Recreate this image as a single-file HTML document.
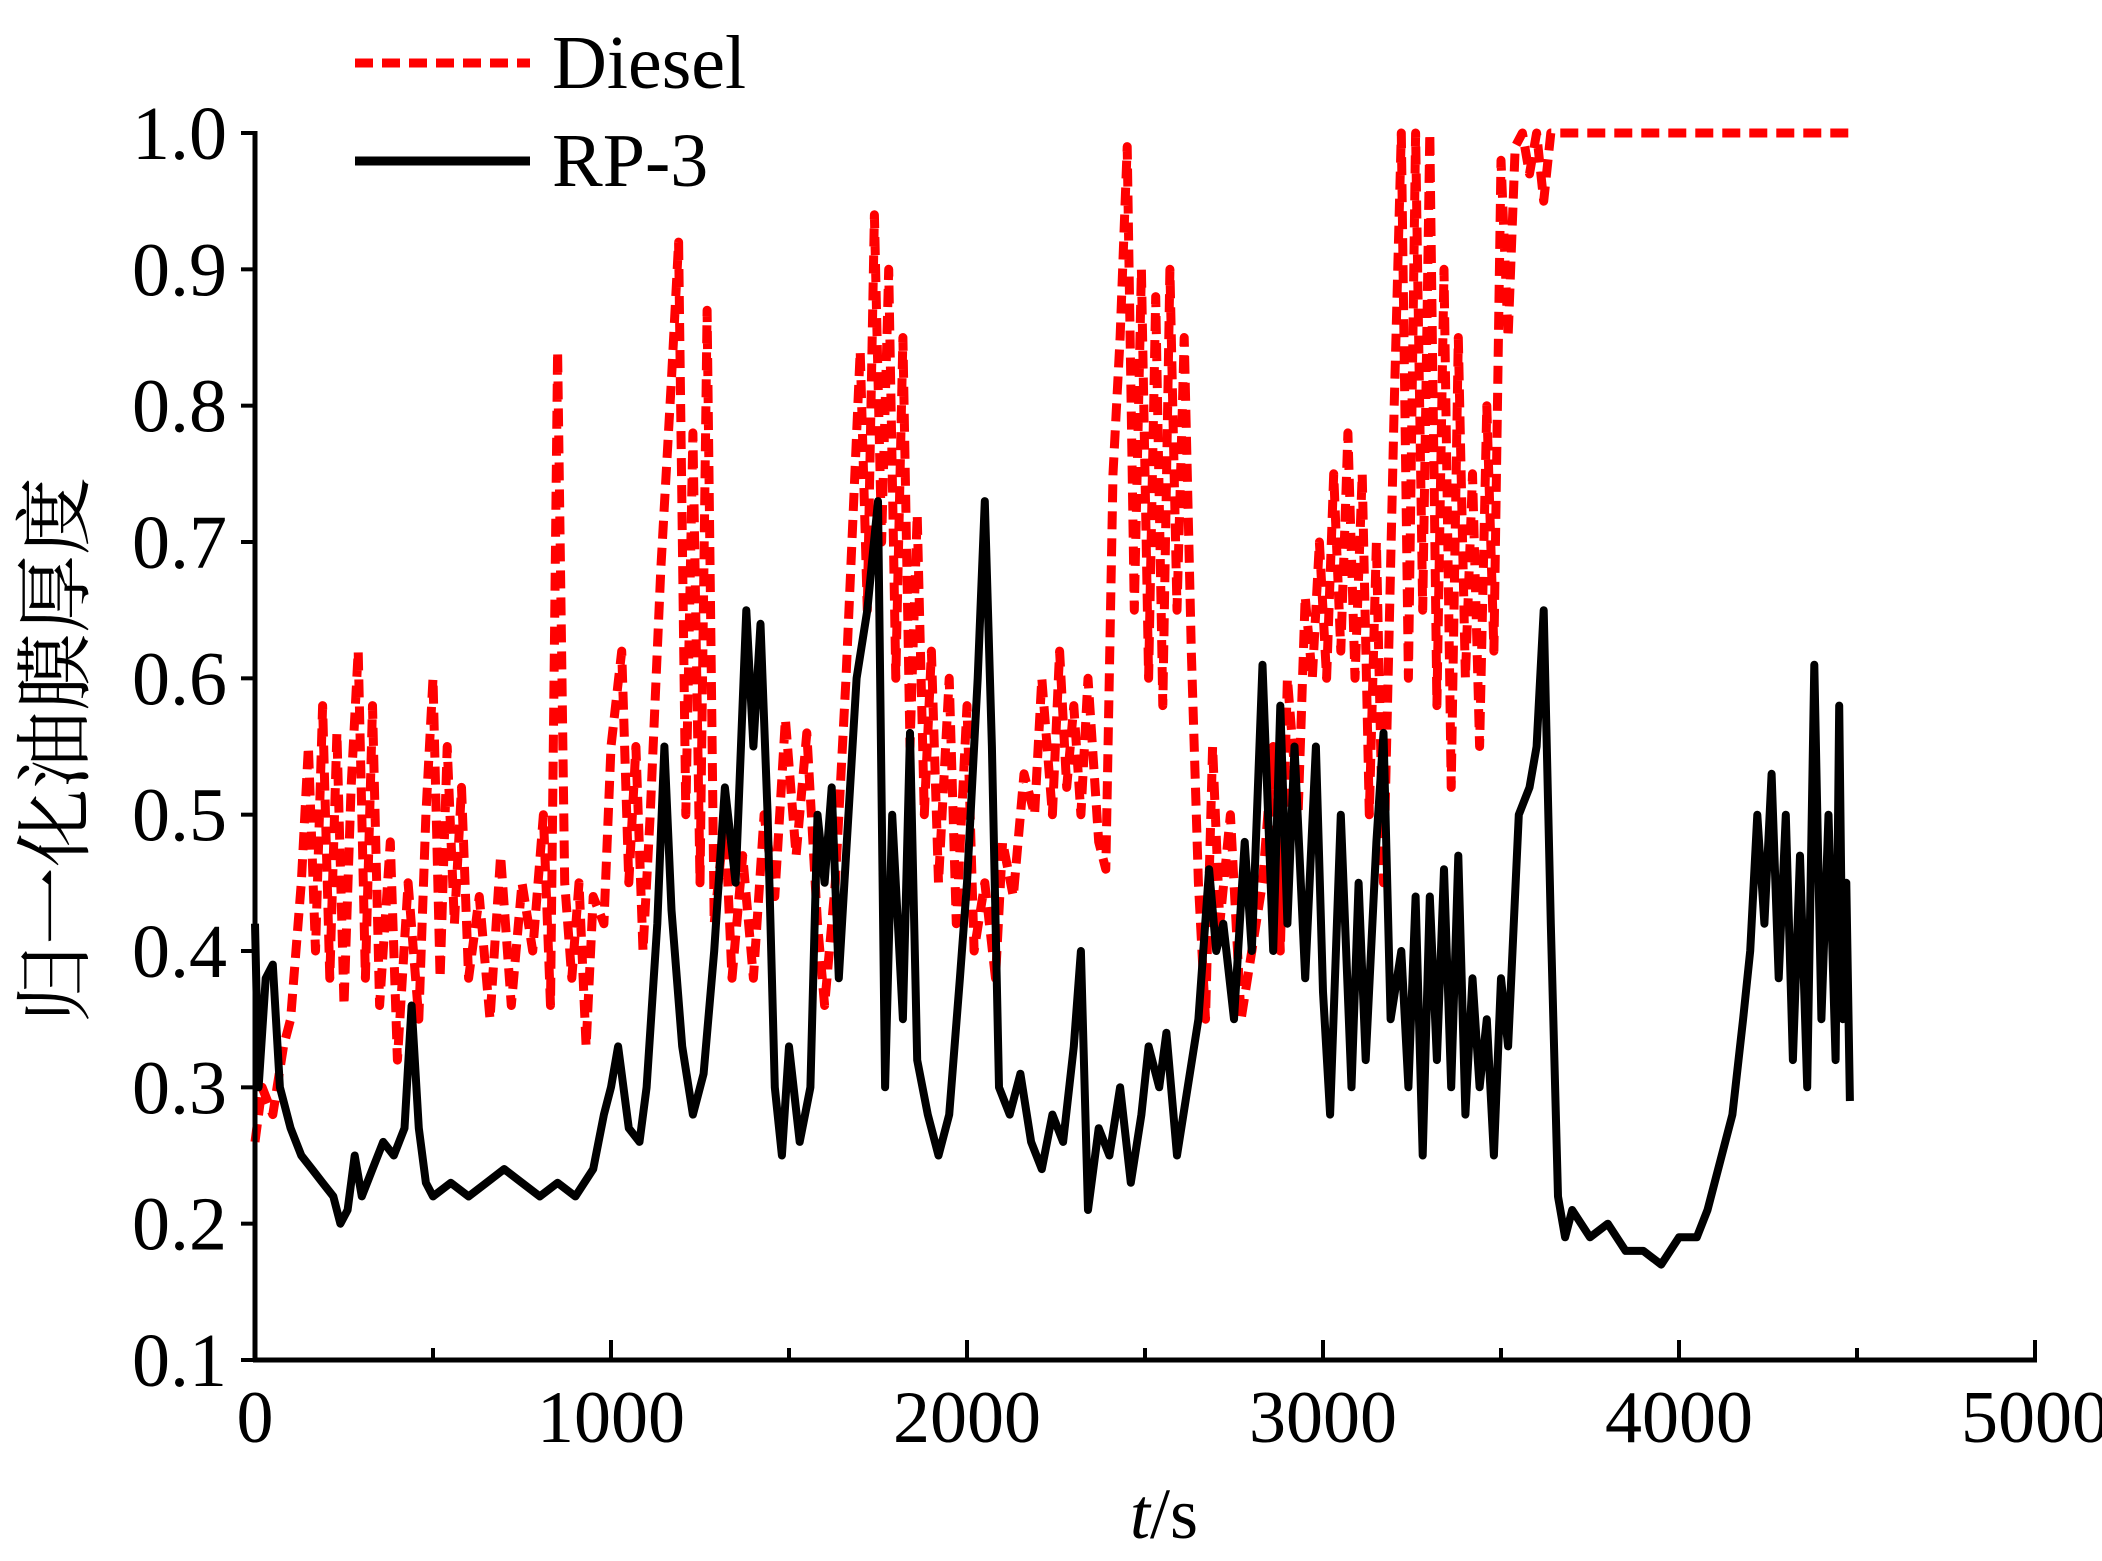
<!DOCTYPE html>
<html><head><meta charset="utf-8">
<style>
html,body{margin:0;padding:0;background:#fff;}
svg{display:block;}
text{font-family:"Liberation Serif","Noto Serif CJK SC",serif;fill:#000;}
</style></head>
<body>
<svg id="chart" width="2102" height="1561" viewBox="0 0 2102 1561" xmlns="http://www.w3.org/2000/svg">
<g id="grid"></g>
<g id="series"></g>
<g id="axes"></g>
<g id="legend">
 <line x1="355" y1="63" x2="530" y2="63" stroke="#ff0000" stroke-width="9" stroke-dasharray="18 9"/>
 <text x="552" y="88" font-size="76">Diesel</text>
 <line x1="355" y1="161" x2="530" y2="161" stroke="#000" stroke-width="9"/>
 <text x="552" y="186" font-size="76">RP-3</text>
</g>
<text x="1164" y="1538" font-size="72" text-anchor="middle"><tspan font-style="italic">t</tspan>/s</text>
<text transform="translate(82,750) rotate(-90)" font-size="78" text-anchor="middle">归一化油膜厚度</text>
</svg>
<script>
const xTicks = [0,1000,2000,3000,4000,5000];
const xMinor = [500,1500,2500,3500,4500];
const yTicks = [0.1,0.2,0.3,0.4,0.5,0.6,0.7,0.8,0.9,1.0];
const rpT = [0,10,30,50,70,100,130,160,190,220,240,260,280,300,330,360,390,420,440,460,480,500,550,600,650,700,750,800,850,900,950,980,1000,1020,1050,1080,1100,1130,1150,1170,1200,1230,1260,1290,1320,1350,1380,1400,1420,1440,1460,1480,1500,1530,1560,1580,1600,1620,1640,1660,1690,1720,1750,1770,1790,1820,1840,1860,1890,1920,1950,1980,2000,2030,2050,2070,2090,2120,2150,2180,2210,2240,2270,2300,2320,2340,2370,2400,2430,2460,2490,2510,2540,2560,2590,2620,2650,2680,2700,2720,2750,2780,2800,2830,2860,2880,2900,2920,2950,2980,3000,3020,3050,3080,3100,3120,3150,3170,3190,3220,3240,3260,3280,3300,3320,3340,3360,3380,3400,3420,3440,3460,3480,3500,3520,3550,3580,3600,3620,3640,3660,3680,3700,3750,3800,3850,3900,3950,4000,4050,4080,4100,4150,4180,4200,4220,4240,4260,4280,4300,4320,4340,4360,4380,4400,4420,4440,4450,4460,4470,4480];
const rpV = [0.42,0.3,0.38,0.39,0.3,0.27,0.25,0.24,0.23,0.22,0.2,0.21,0.25,0.22,0.24,0.26,0.25,0.27,0.36,0.27,0.23,0.22,0.23,0.22,0.23,0.24,0.23,0.22,0.23,0.22,0.24,0.28,0.3,0.33,0.27,0.26,0.3,0.42,0.55,0.43,0.33,0.28,0.31,0.4,0.52,0.45,0.65,0.55,0.64,0.5,0.3,0.25,0.33,0.26,0.3,0.5,0.45,0.52,0.38,0.47,0.6,0.65,0.73,0.3,0.5,0.35,0.56,0.32,0.28,0.25,0.28,0.38,0.45,0.6,0.73,0.55,0.3,0.28,0.31,0.26,0.24,0.28,0.26,0.33,0.4,0.21,0.27,0.25,0.3,0.23,0.28,0.33,0.3,0.34,0.25,0.3,0.35,0.46,0.4,0.42,0.35,0.48,0.4,0.61,0.4,0.58,0.42,0.55,0.38,0.55,0.37,0.28,0.5,0.3,0.45,0.32,0.48,0.56,0.35,0.4,0.3,0.44,0.25,0.44,0.32,0.46,0.3,0.47,0.28,0.38,0.3,0.35,0.25,0.38,0.33,0.5,0.52,0.55,0.65,0.42,0.22,0.19,0.21,0.19,0.2,0.18,0.18,0.17,0.19,0.19,0.21,0.23,0.28,0.35,0.4,0.5,0.42,0.53,0.38,0.5,0.32,0.47,0.3,0.61,0.35,0.5,0.32,0.58,0.35,0.45,0.29];
const dT = [0,20,50,80,100,130,150,170,190,210,230,250,270,290,310,330,350,380,400,430,460,480,500,520,540,560,580,600,630,660,690,720,750,780,810,830,850,870,890,910,930,950,980,1000,1030,1050,1070,1090,1110,1140,1170,1190,1210,1230,1250,1270,1290,1320,1340,1370,1400,1430,1460,1490,1520,1550,1580,1600,1630,1660,1680,1700,1720,1740,1760,1780,1800,1820,1840,1860,1880,1900,1920,1950,1970,2000,2020,2050,2080,2100,2130,2160,2190,2210,2240,2260,2280,2300,2320,2340,2370,2390,2410,2430,2450,2470,2490,2510,2530,2550,2570,2590,2610,2630,2650,2670,2690,2710,2740,2770,2800,2830,2860,2880,2900,2930,2950,2970,2990,3010,3030,3050,3070,3090,3110,3130,3150,3170,3200,3220,3240,3260,3280,3300,3320,3340,3360,3380,3400,3420,3440,3460,3480,3500,3520,3540,3560,3580,3600,3620,3640,4480];
const dV = [0.26,0.3,0.28,0.33,0.35,0.45,0.55,0.4,0.58,0.38,0.56,0.36,0.52,0.62,0.38,0.58,0.36,0.48,0.32,0.45,0.35,0.5,0.6,0.38,0.55,0.42,0.52,0.38,0.44,0.35,0.47,0.36,0.45,0.4,0.5,0.36,0.84,0.45,0.38,0.45,0.33,0.44,0.42,0.55,0.62,0.45,0.55,0.4,0.5,0.68,0.82,0.92,0.5,0.78,0.45,0.87,0.42,0.5,0.38,0.47,0.38,0.5,0.44,0.57,0.47,0.56,0.42,0.36,0.45,0.6,0.72,0.84,0.65,0.94,0.7,0.9,0.6,0.85,0.55,0.72,0.5,0.62,0.45,0.6,0.42,0.58,0.4,0.45,0.38,0.48,0.44,0.53,0.5,0.6,0.5,0.62,0.52,0.58,0.5,0.6,0.48,0.46,0.75,0.85,0.99,0.65,0.9,0.6,0.88,0.58,0.9,0.65,0.85,0.62,0.45,0.35,0.55,0.42,0.5,0.35,0.4,0.45,0.55,0.4,0.6,0.5,0.66,0.6,0.7,0.6,0.75,0.62,0.78,0.6,0.75,0.5,0.7,0.45,0.8,1.0,0.6,1.0,0.65,1.0,0.58,0.9,0.52,0.85,0.6,0.75,0.55,0.8,0.62,0.98,0.85,0.99,1.0,0.97,1.0,0.95,1.0,1.0];

const X0=255, X1=2035, Y0=1360, Y1=133;
const sx = t => X0 + (t/5000)*(X1-X0);
const sy = v => Y0 - ((v-0.1)/0.9)*(Y0-Y1);
const NS="http://www.w3.org/2000/svg";
function mk(tag, attrs, parent){const e=document.createElementNS(NS,tag);for(const k in attrs)e.setAttribute(k,attrs[k]);parent.appendChild(e);return e;}
const series=document.getElementById('series');
const axes=document.getElementById('axes');

let p1=mk('path',{d:dT.map((t,i)=>(i?'L':'M')+sx(t).toFixed(1)+','+sy(dV[i]).toFixed(1)).join(''),fill:'none',stroke:'#ff0000','stroke-width':9,'stroke-dasharray':'18 9','stroke-linejoin':'round'},series);


let p2=mk('path',{d:rpT.map((t,i)=>(i?'L':'M')+sx(t).toFixed(1)+','+sy(rpV[i]).toFixed(1)).join(''),fill:'none',stroke:'#000','stroke-width':8,'stroke-linejoin':'round'},series);



let ya=mk('line',{x1:X0,y1:Y1-2,x2:X0,y2:Y0+2,stroke:'#000','stroke-width':5},axes);


let xa=mk('line',{x1:X0-2,y1:Y0,x2:X1+2,y2:Y0,stroke:'#000','stroke-width':5},axes);


yTicks.forEach(v=>{
  let tk=mk('line',{x1:X0-14,y1:sy(v),x2:X0,y2:sy(v),stroke:'#000','stroke-width':4},axes);
  
  
  let tx=mk('text',{x:X0-28,y:sy(v)+26,'font-size':76,'text-anchor':'end'},axes);
  tx.textContent=v.toFixed(1);
  
  
});
xTicks.forEach(t=>{
  let tk=mk('line',{x1:sx(t),y1:Y0,x2:sx(t),y2:Y0-20,stroke:'#000','stroke-width':4},axes);
  
  
  let tx=mk('text',{x:sx(t),y:Y0+82,'font-size':74,'text-anchor':'middle'},axes);
  tx.textContent=String(t);
  
  
});
xMinor.forEach(t=>{
  let tk=mk('line',{x1:sx(t),y1:Y0,x2:sx(t),y2:Y0-12,stroke:'#000','stroke-width':4},axes);
  
  
});
</script>
</body></html>
